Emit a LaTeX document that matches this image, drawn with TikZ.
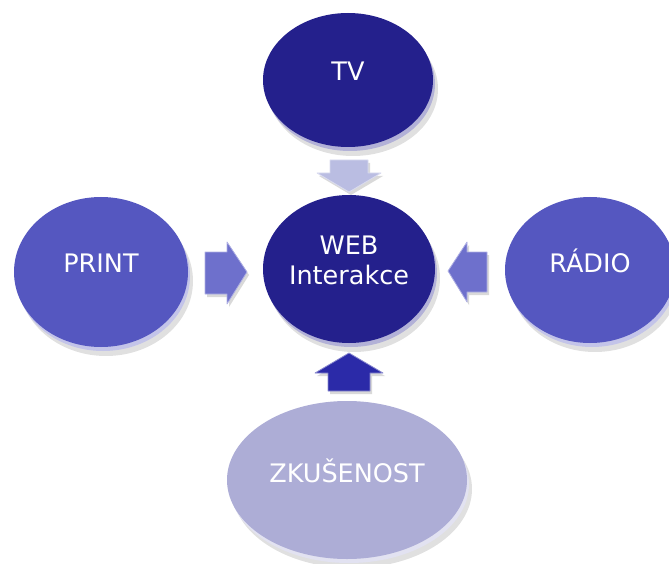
\documentclass[tikz,border=0pt]{standalone}
\usepackage{fontspec}
\setmainfont{DejaVu Sans}
\usetikzlibrary{shapes.geometric,shadows}

\definecolor{navy}{HTML}{24208C}
\definecolor{midblue}{HTML}{5557C0}
\definecolor{lavender}{HTML}{ADADD6}
\definecolor{paleblue}{HTML}{BABDE2}
\definecolor{arrowblue}{HTML}{6E70CC}
\definecolor{deepblue}{HTML}{2B2AA8}

\begin{document}
\begin{tikzpicture}[x=1pt, y=-1pt,
	disc/.style={ellipse, fill=#1, inner sep=0pt, text=white, align=center,
		font=\fontsize{25.5}{30}\selectfont, text depth=18pt,
		drop shadow={shadow xshift=5pt, shadow yshift=-9pt, fill=black, opacity=0.12},
		general shadow={shadow xshift=2pt, shadow yshift=-4pt, fill=#1!35!white}},
	blockarrow/.style={fill=#1, draw=#1!55!white, line width=0.8pt, line join=round,
		drop shadow={shadow xshift=2pt, shadow yshift=-3pt, fill=black, opacity=0.15}}]

	\useasboundingbox (0,0) rectangle (669,564);

	% media discs
	\node[disc=navy, minimum width=170pt, minimum height=134pt] (tv) at (348,80) {TV};
	\node[disc=navy, minimum width=172pt, minimum height=148pt] (web) at (349,269) {WEB\\Interakce};
	\node[disc=midblue, minimum width=174pt, minimum height=150pt] (print) at (101,272) {PRINT};
	\node[disc=midblue, minimum width=170pt, minimum height=146pt] (radio) at (590,270) {RÁDIO};
	\node[disc=lavender, minimum width=240pt, minimum height=158pt] (zkusenost) at (347,480) {ZKUŠENOST};

	% arrow tips
	\coordinate (tvtip) at (349,192);
	\coordinate (printtip) at (247,272);
	\coordinate (radiotip) at (448,271);
	\coordinate (zktip) at (349,353);

	% block arrows into WEB
	\draw[blockarrow=paleblue] (tvtip) -- ++(-32,-19) -- ++(13,0) -- ++(0,-13)
		-- ++(38,0) -- ++(0,13) -- ++(13,0) -- cycle;
	\draw[blockarrow=arrowblue] (printtip) -- ++(-20,-30) -- ++(0,10) -- ++(-22,0)
		-- ++(0,42) -- ++(22,0) -- ++(0,10) -- cycle;
	\draw[blockarrow=arrowblue] (radiotip) -- ++(19,-29) -- ++(0,10) -- ++(20,0)
		-- ++(0,40) -- ++(-20,0) -- ++(0,10) -- cycle;
	\draw[blockarrow=deepblue] (zktip) -- ++(-34,20) -- ++(13,0) -- ++(0,18)
		-- ++(42,0) -- ++(0,-18) -- ++(13,0) -- cycle;
\end{tikzpicture}
\end{document}
